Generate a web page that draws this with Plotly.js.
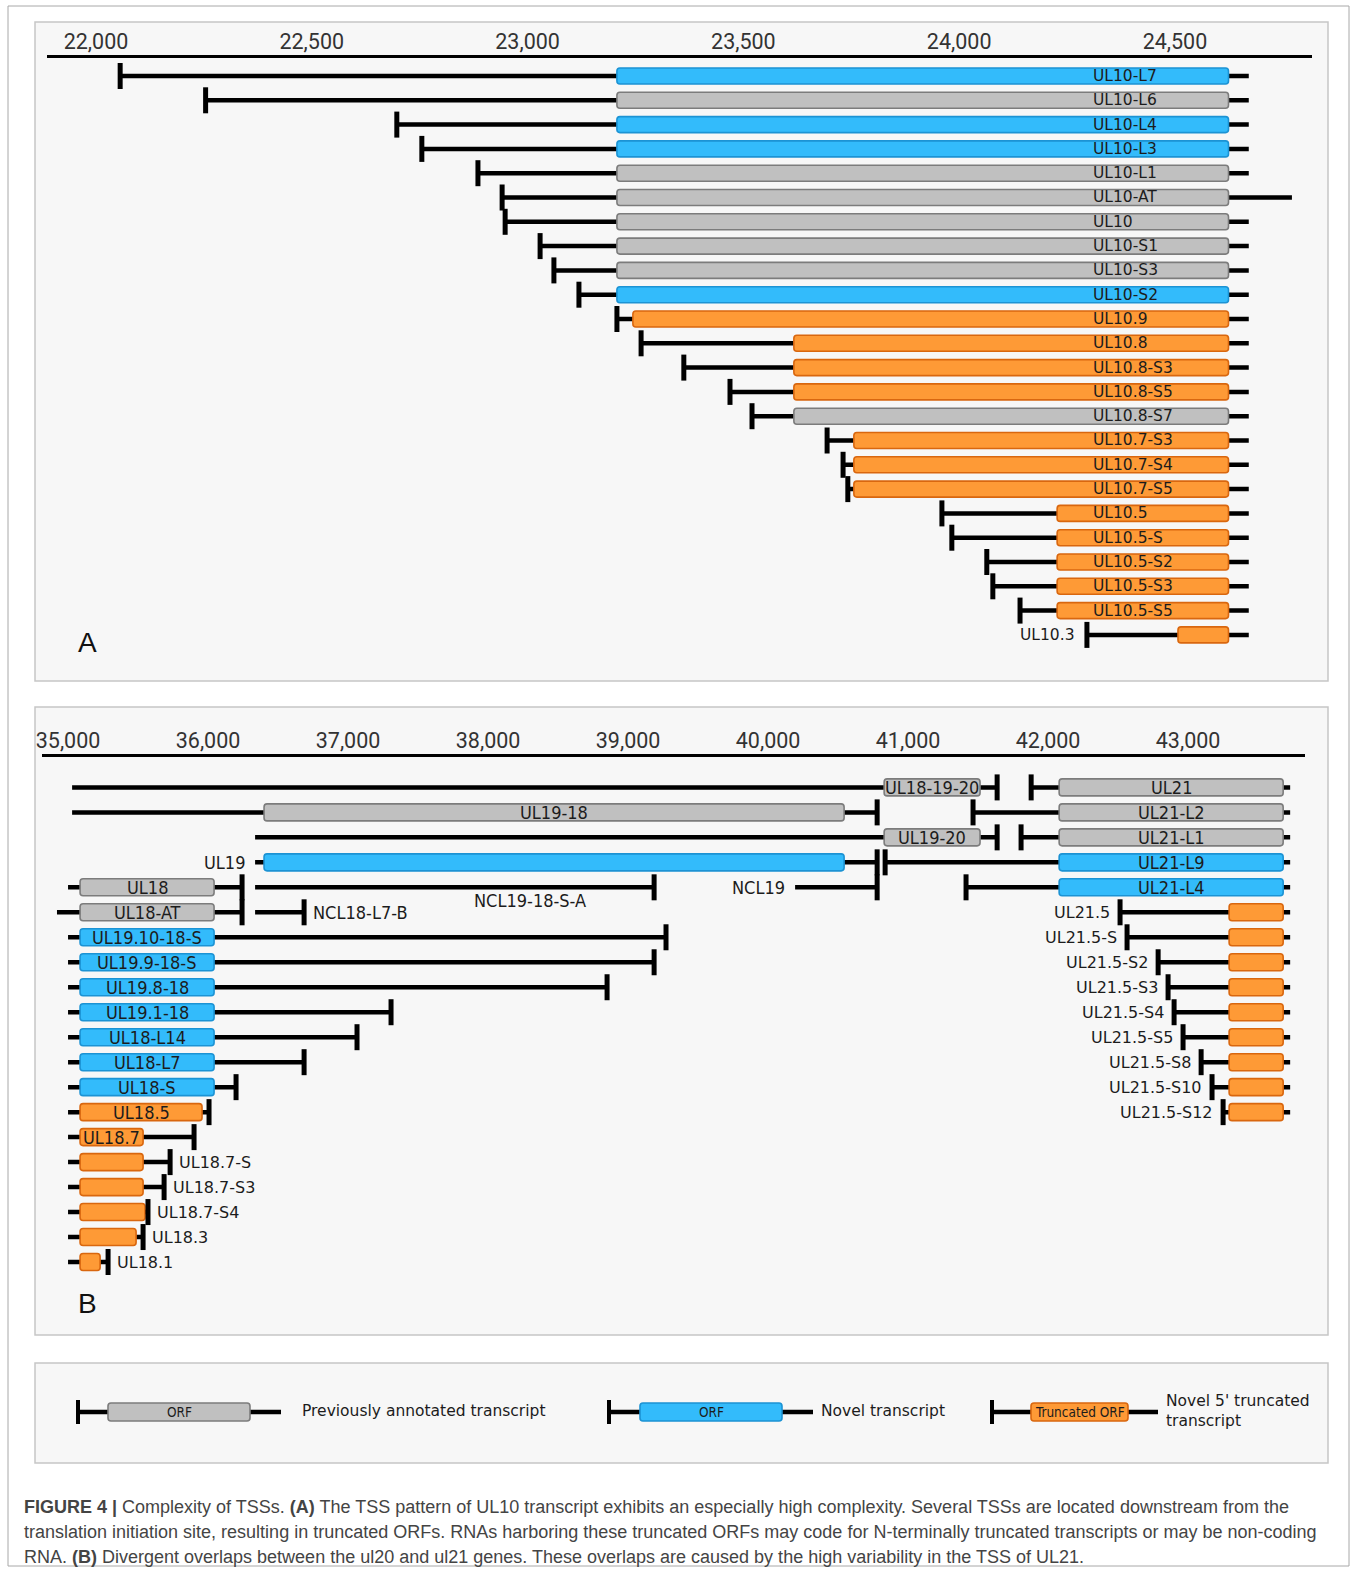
<!DOCTYPE html>
<html><head><meta charset="utf-8">
<script src="https://cdn.plot.ly/plotly-3.0.1.min.js"></script>
<style>html,body{margin:0;padding:0;background:#fff;overflow:hidden}</style>
</head><body><div id="chart" style="width:1354px;height:1572px"></div>
<script>
// ---------------- Panel A data (UL10 region) ----------------
const A_names = ['UL10-L7','UL10-L6','UL10-L4','UL10-L3','UL10-L1','UL10-AT','UL10','UL10-S1','UL10-S3','UL10-S2',
  'UL10.9','UL10.8','UL10.8-S3','UL10.8-S5','UL10.8-S7','UL10.7-S3','UL10.7-S4','UL10.7-S5',
  'UL10.5','UL10.5-S','UL10.5-S2','UL10.5-S3','UL10.5-S5','UL10.3'];
const A_tss = [22056,22254,22697,22755,22885,22941,22948,23029,23061,23119,
  23207,23263,23362,23469,23520,23694,23731,23742,
  23960,23983,24064,24078,24141,24296];
const A_orfStart = [23207,23207,23207,23207,23207,23207,23207,23207,23207,23207,
  23244,23617,23617,23617,23617,23756,23756,23756,
  24227,24227,24227,24227,24227,24507];
const A_orfEnd = [24624,24624,24624,24624,24624,24624,24624,24624,24624,24624,
  24624,24624,24624,24624,24624,24624,24624,24624,
  24624,24624,24624,24624,24624,24624];
const A_end = [24671,24671,24671,24671,24671,24771,24671,24671,24671,24671,
  24671,24671,24671,24671,24671,24671,24671,24671,
  24671,24671,24671,24671,24671,24671];
const A_type = ['novel','prev','novel','novel','prev','prev','prev','prev','prev','novel',
  'trunc','trunc','trunc','trunc','prev','trunc','trunc','trunc',
  'trunc','trunc','trunc','trunc','trunc','trunc'];
const A_label = ['in','in','in','in','in','in','in','in','in','in',
  'in','in','in','in','in','in','in','in',
  'in','in','in','in','in','left'];
const A_ticks = [22000,22500,23000,23500,24000,24500];

// ---------------- Panel B data (UL18-UL21 region) ----------------
const B_names = ['UL18-19-20','UL21','UL19-18','UL21-L2','UL19-20','UL21-L1','UL19','UL21-L9',
  'UL18','NCL19-18-S-A','NCL19','UL21-L4','UL18-AT','NCL18-L7-B','UL21.5',
  'UL19.10-18-S','UL21.5-S','UL19.9-18-S','UL21.5-S2','UL19.8-18','UL21.5-S3',
  'UL19.1-18','UL21.5-S4','UL18-L14','UL21.5-S5','UL18-L7','UL21.5-S8','UL18-S','UL21.5-S10',
  'UL18.5','UL21.5-S12','UL18.7','UL18.7-S','UL18.7-S3','UL18.7-S4','UL18.3','UL18.1'];
const B_track = [0,0,1,1,2,2,3,3,4,4,4,4,5,5,5,6,6,7,7,8,8,9,9,10,10,11,11,12,12,13,13,14,15,16,17,18,19];
const B_tss = [41636,41879,40779,41464,41636,41807,40779,40836,
  36243,39186,40779,41414,36243,36686,42514,
  39271,42564,39186,42786,38850,42857,
  37307,42900,37064,42964,36686,43093,36200,43171,
  36007,43250,35900,35729,35686,35571,35536,35286];
const B_end = [35029,43729,35029,43729,36336,43729,36336,43729,
  35000,36336,40193,43729,34921,36336,43729,
  35000,43729,35000,43729,35000,43729,
  35000,43729,35000,43729,35000,43729,35000,43729,
  35000,43729,35000,35000,35000,35000,35000,35000];
const B_orfStart = [40829,42079,36400,42079,40829,42079,36400,42079,
  35086,null,null,42079,35086,null,43293,
  35086,43293,35086,43293,35086,43293,
  35086,43293,35086,43293,35086,43293,35086,43293,
  35086,43293,35086,35086,35086,35086,35086,35086];
const B_orfEnd = [41514,43679,40543,43679,41514,43679,40543,43679,
  36043,null,null,43679,36043,null,43679,
  36043,43679,36043,43679,36043,43679,
  36043,43679,36043,43679,36043,43679,36043,43679,
  35957,43679,35536,35536,35536,35550,35486,35229];
const B_type = ['prev','prev','prev','prev','prev','prev','novel','novel',
  'prev','none','none','novel','prev','none','trunc',
  'novel','trunc','novel','trunc','novel','trunc',
  'novel','trunc','novel','trunc','novel','trunc','novel','trunc',
  'trunc','trunc','trunc','trunc','trunc','trunc','trunc','trunc'];
const B_label = ['in','in','in','in','in','in','left','in',
  'in','below','left','in','in','right','left',
  'in','left','in','left','in','left',
  'in','left','in','left','in','left','in','left',
  'in','left','in','right','right','right','right','right'];
const B_ticks = [35000,36000,37000,38000,39000,40000,41000,42000,43000];

// ---------------- Legend / caption text ----------------
const legendItems = [
  {type:'prev', box:'ORF', text:'Previously annotated transcript'},
  {type:'novel', box:'ORF', text:'Novel transcript'},
  {type:'trunc', box:'Truncated ORF', text:"Novel 5' truncated<br>transcript"}
];
const captionLines = [
  "<b>FIGURE 4 |</b> Complexity of TSSs. <b>(A)</b> The TSS pattern of UL10 transcript exhibits an especially high complexity. Several TSSs are located downstream from the",
  "translation initiation site, resulting in truncated ORFs. RNAs harboring these truncated ORFs may code for N-terminally truncated transcripts or may be non-coding",
  "RNA. <b>(B)</b> Divergent overlaps between the ul20 and ul21 genes. These overlaps are caused by the high variability in the TSS of UL21."
];

// ---------------- Styling ----------------
const W = 1354, H = 1572;
const px = x => x / W, py = y => 1 - y / H;
const COLORS = {
  prev:  {fill:'#c0c0c0', line:'#7c7c7c'},
  novel: {fill:'#33bbfb', line:'#1c93d4'},
  trunc: {fill:'#fe9a36', line:'#d9670f'}
};
const FONT_N = 'DejaVu Sans, Verdana, sans-serif';
const FONT_C = 'DejaVu Sans Condensed, Liberation Sans Narrow, DejaVu Sans, sans-serif';
const TXT = '#1c1c1c';

// axis geometry (pixel domains, value ranges)
const AXA = {dom:[47,1312], range:[21886.5,24817.5]};
const AXB = {dom:[42,1305], range:[34814,43835]};
const rowA0 = 76, rowAstep = 24.3;
const rowB0 = 787.4, rowBstep = 24.98;
const AYA = {dom:[58,681]};  AYA.range = [(AYA.dom[1]-rowA0)/rowAstep, (AYA.dom[0]-rowA0)/rowAstep];
const AYB = {dom:[757,1335]}; AYB.range = [(AYB.dom[1]-rowB0)/rowBstep, (AYB.dom[0]-rowB0)/rowBstep];
const ppuA = (AXA.dom[1]-AXA.dom[0])/(AXA.range[1]-AXA.range[0]);
const ppuB = (AXB.dom[1]-AXB.dom[0])/(AXB.range[1]-AXB.range[0]);

const shapes = [], annotations = [];

// panel frames
shapes.push({type:'rect', xref:'paper', yref:'paper', x0:px(8), x1:px(1349), y0:py(1566), y1:py(6),
  line:{color:'#a8a8a8', width:1}, fillcolor:'rgba(0,0,0,0)', layer:'below'});
[[22,681],[707,1335],[1363,1463]].forEach(([t,b]) => {
  shapes.push({type:'rect', xref:'paper', yref:'paper', x0:px(35), x1:px(1328), y0:py(b), y1:py(t),
    line:{color:'#c6c6c6', width:1.5}, fillcolor:'#f7f7f7', layer:'below'});
});

function boxPath(x0, x1, h, r, ppu) {
  const rx = r/ppu, a = -h/2, b = h/2;
  return `M${x0+rx},${a} L${x1-rx},${a} Q${x1},${a} ${x1},${a+r} L${x1},${b-r} Q${x1},${b} ${x1-rx},${b} ` +
         `L${x0+rx},${b} Q${x0},${b} ${x0},${b-r} L${x0},${a+r} Q${x0},${a} ${x0+rx},${a} Z`;
}

function drawTranscript(xr, yr, ppu, tss, end, oS, oE, track, type, boxH) {
  shapes.push({type:'line', xref:xr, yref:yr, x0:Math.min(tss,end), x1:Math.max(tss,end), y0:track, y1:track,
    line:{color:'#000', width:4.5}});
  if (oS != null && COLORS[type]) {
    shapes.push({type:'path', xref:xr, yref:yr, ysizemode:'pixel', yanchor:track,
      path:boxPath(oS, oE, boxH, 3, ppu), fillcolor:COLORS[type].fill, line:{color:COLORS[type].line, width:1.6}});
  }
  shapes.push({type:'line', xref:xr, yref:yr, x0:tss, x1:tss, ysizemode:'pixel', yanchor:track, y0:-13, y1:13,
    line:{color:'#000', width:5}});
}

// Panel A
A_names.forEach((n,i) => {
  drawTranscript('x','y',ppuA, A_tss[i], A_end[i], A_orfStart[i], A_orfEnd[i], i, A_type[i], 16);
  if (A_label[i] === 'in') {
    annotations.push({xref:'x', yref:'y', x:A_orfEnd[i], y:i, xanchor:'left', xshift:-137, text:n, showarrow:false,
      font:{family:FONT_N, size:15.5, color:TXT}});
  } else {
    annotations.push({xref:'x', yref:'y', x:Math.min(A_tss[i],A_end[i]), y:i, xanchor:'right', xshift:-10, text:n, showarrow:false,
      font:{family:FONT_N, size:15.5, color:TXT}});
  }
});

// Panel B
B_names.forEach((n,i) => {
  const t = B_track[i];
  drawTranscript('x2','y2',ppuB, B_tss[i], B_end[i], B_orfStart[i], B_orfEnd[i], t, B_type[i], 17);
  const lab = B_label[i];
  const fam = (B_type[i]==='trunc' && lab!=='in') ? FONT_N : FONT_C;
  const size = fam===FONT_N ? 16 : 18;
  const base = {xref:'x2', yref:'y2', y:t, text:n, showarrow:false, font:{family:fam, size:size, color:TXT}};
  if (lab === 'in') {
    annotations.push(Object.assign(base, {x:(B_orfStart[i]+B_orfEnd[i])/2, xanchor:'center'}));
  } else if (lab === 'left') {
    annotations.push(Object.assign(base, {x:Math.min(B_tss[i],B_end[i]), xanchor:'right', xshift:-8}));
  } else if (lab === 'right') {
    annotations.push(Object.assign(base, {x:Math.max(B_tss[i],B_end[i]), xanchor:'left', xshift:7}));
  } else if (lab === 'below') {
    annotations.push(Object.assign(base, {x:B_tss[i], xanchor:'center', xshift:-124, yshift:-13}));
  }
});

// Panel letters
annotations.push({xref:'paper', yref:'paper', x:px(87), y:py(642), text:'A', showarrow:false, xanchor:'center', yanchor:'middle',
  font:{family:'Liberation Sans, Arial, sans-serif', size:28, color:'#111'}});
annotations.push({xref:'paper', yref:'paper', x:px(87), y:py(1303), text:'B', showarrow:false, xanchor:'center', yanchor:'middle',
  font:{family:'Liberation Sans, Arial, sans-serif', size:28, color:'#111'}});

// Legend glyphs
const legendGeom = [
  {bar:78, boxL:108, boxR:250, tail:281, textX:300},
  {bar:609, boxL:640, boxR:782, tail:813, textX:819},
  {bar:992, boxL:1031, boxR:1128, tail:1158, textX:1164}
];
const LY = 1412;
legendItems.forEach((it, k) => {
  const g = legendGeom[k];
  shapes.push({type:'line', xref:'paper', yref:'paper', x0:px(g.bar), x1:px(g.tail), y0:py(LY), y1:py(LY), line:{color:'#000', width:4.5}});
  const h = 18, r = 3;
  const x0 = g.boxL, x1 = g.boxR, a = LY - h/2, b = LY + h/2;
  const p = `M${px(x0+r)},${py(a)} L${px(x1-r)},${py(a)} Q${px(x1)},${py(a)} ${px(x1)},${py(a+r)} L${px(x1)},${py(b-r)} Q${px(x1)},${py(b)} ${px(x1-r)},${py(b)} L${px(x0+r)},${py(b)} Q${px(x0)},${py(b)} ${px(x0)},${py(b-r)} L${px(x0)},${py(a+r)} Q${px(x0)},${py(a)} ${px(x0+r)},${py(a)} Z`;
  shapes.push({type:'path', xref:'paper', yref:'paper', path:p, fillcolor:COLORS[it.type].fill, line:{color:COLORS[it.type].line, width:1.6}});
  shapes.push({type:'line', xref:'paper', yref:'paper', x0:px(g.bar), x1:px(g.bar), y0:py(LY-12), y1:py(LY+12), line:{color:'#000', width:4}});
  annotations.push({xref:'paper', yref:'paper', x:px((g.boxL+g.boxR)/2), y:py(LY), text:it.box, showarrow:false, xanchor:'center', yanchor:'middle',
    font:{family:FONT_C, size:13.5, color:TXT}});
  annotations.push({xref:'paper', yref:'paper', x:px(g.textX), y:py(LY-1), text:it.text, showarrow:false, xanchor:'left', yanchor:'middle', align:'left',
    font:{family:FONT_N, size:15.5, color:TXT}});
});

// Caption
captionLines.forEach((t, k) => {
  annotations.push({xref:'paper', yref:'paper', x:px(22), y:py(1507 + 25*k), text:t, showarrow:false, xanchor:'left', yanchor:'middle', align:'left',
    font:{family:'Liberation Sans, Arial, sans-serif', size:18, color:'#444'}});
});

const axisCommon = {side:'top', showline:true, linewidth:3, linecolor:'#000', showgrid:false, zeroline:false, ticks:'',
  ticklabelstandoff:-3,
  tickformat:',d', tickfont:{family:'Roboto, Open Sans, sans-serif', size:21.5, color:'#333'}, fixedrange:true};

const layout = {
  width:W, height:H, margin:{l:0,r:0,t:0,b:0}, paper_bgcolor:'#fff', plot_bgcolor:'rgba(0,0,0,0)', showlegend:false,
  xaxis: Object.assign({}, axisCommon, {domain:[px(AXA.dom[0]), px(AXA.dom[1])], range:AXA.range, anchor:'y', tickvals:A_ticks}),
  yaxis: {domain:[py(AYA.dom[1]), py(AYA.dom[0])], range:AYA.range, visible:false, fixedrange:true, anchor:'x'},
  xaxis2: Object.assign({}, axisCommon, {domain:[px(AXB.dom[0]), px(AXB.dom[1])], range:AXB.range, anchor:'y2', tickvals:B_ticks}),
  yaxis2: {domain:[py(AYB.dom[1]), py(AYB.dom[0])], range:AYB.range, visible:false, fixedrange:true, anchor:'x2'},
  shapes: shapes, annotations: annotations
};

// invisible traces to bind the axes
const traces = [
  {type:'scatter', x:[A_ticks[0]], y:[0], xaxis:'x', yaxis:'y', mode:'markers', marker:{opacity:0}, hoverinfo:'skip'},
  {type:'scatter', x:[B_ticks[0]], y:[0], xaxis:'x2', yaxis:'y2', mode:'markers', marker:{opacity:0}, hoverinfo:'skip'}
];
Plotly.newPlot('chart', traces, layout, {staticPlot:true, displayModeBar:false});
</script></body></html>
